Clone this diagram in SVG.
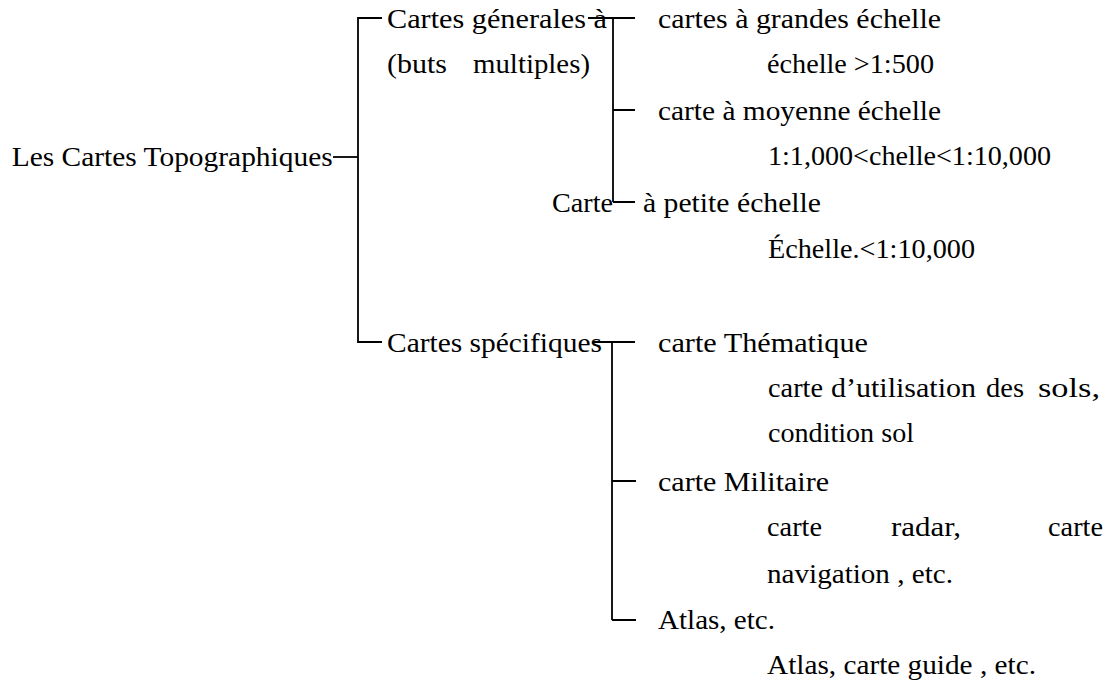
<svg xmlns="http://www.w3.org/2000/svg" width="1106" height="681" viewBox="0 0 1106 681" font-family="'Liberation Serif', 'DejaVu Serif', serif">
<style>
  text { font-family: 'Liberation Serif', 'DejaVu Serif', serif; font-size: 28px; fill: #000; }
  .ln { stroke: #000; stroke-width: 1.8; fill: none; }
</style>
<rect width="1106" height="681" fill="#fff"/>
<g id="connectors">
  <path class="ln" d="M333,157 H358"/>
  <path class="ln" d="M382,18 H358 V342 H382"/>
  <path class="ln" d="M588,18 H635 M613,18 V202 M613,110 H635 M613,202 H635"/>
  <path class="ln" d="M593,342 H635 M612,342 V620 M612,481 H636 M612,620 H636"/>
</g>
<g id="root"><text x="11.7" y="166" textLength="321" lengthAdjust="spacingAndGlyphs">Les Cartes Topographiques</text></g>
<g id="generales">
  <text x="387" y="28" textLength="220" lengthAdjust="spacingAndGlyphs">Cartes génerales à</text>
  <text y="73"><tspan x="387" textLength="60" lengthAdjust="spacingAndGlyphs">(buts</tspan><tspan x="473" textLength="117" lengthAdjust="spacingAndGlyphs">multiples)</tspan></text>
</g>
<g id="grande">
  <text x="658" y="28" textLength="283" lengthAdjust="spacingAndGlyphs">cartes à grandes échelle</text>
  <text x="767" y="73" textLength="167" lengthAdjust="spacingAndGlyphs">échelle &gt;1:500</text>
</g>
<g id="moyenne">
  <text x="658" y="120" textLength="283" lengthAdjust="spacingAndGlyphs">carte à moyenne échelle</text>
  <text x="768" y="165" textLength="283" lengthAdjust="spacingAndGlyphs">1:1,000&lt;chelle&lt;1:10,000</text>
</g>
<g id="petite">
  <text y="212"><tspan x="552" textLength="61" lengthAdjust="spacingAndGlyphs">Carte</tspan><tspan x="643" textLength="178" lengthAdjust="spacingAndGlyphs">à petite échelle</tspan></text>
  <text x="768" y="258" textLength="207" lengthAdjust="spacingAndGlyphs">Échelle.&lt;1:10,000</text>
</g>
<g id="specifiques"><text x="387" y="352" textLength="215" lengthAdjust="spacingAndGlyphs">Cartes spécifiques</text></g>
<g id="thematique">
  <text x="658" y="352" textLength="210" lengthAdjust="spacingAndGlyphs">carte Thématique</text>
  <text y="397"><tspan x="768" textLength="55" lengthAdjust="spacingAndGlyphs">carte</tspan><tspan x="831" textLength="145" lengthAdjust="spacingAndGlyphs">d’utilisation</tspan><tspan x="986" textLength="38" lengthAdjust="spacingAndGlyphs">des</tspan><tspan x="1038" textLength="62" lengthAdjust="spacingAndGlyphs">sols,</tspan></text>
  <text x="768" y="442" textLength="146" lengthAdjust="spacingAndGlyphs">condition sol</text>
</g>
<g id="militaire">
  <text x="658" y="491" textLength="171" lengthAdjust="spacingAndGlyphs">carte Militaire</text>
  <text y="536"><tspan x="767" textLength="55" lengthAdjust="spacingAndGlyphs">carte</tspan><tspan x="891" textLength="70" lengthAdjust="spacingAndGlyphs">radar,</tspan><tspan x="1048" textLength="55" lengthAdjust="spacingAndGlyphs">carte</tspan></text>
  <text x="767" y="583" textLength="186" lengthAdjust="spacingAndGlyphs">navigation , etc.</text>
</g>
<g id="atlas">
  <text x="658" y="629" textLength="117" lengthAdjust="spacingAndGlyphs">Atlas, etc.</text>
  <text x="767" y="674" textLength="269" lengthAdjust="spacingAndGlyphs">Atlas, carte guide , etc.</text>
</g>
</svg>
